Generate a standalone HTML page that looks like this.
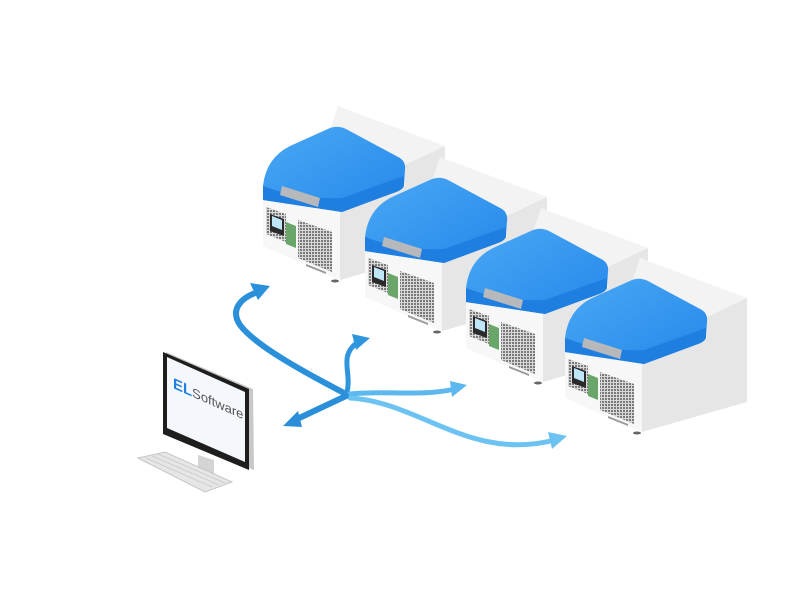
<!DOCTYPE html>
<html><head><meta charset="utf-8"><style>html,body{margin:0;padding:0;background:#fff}svg{display:block}</style></head>
<body>
<svg width="800" height="600" viewBox="0 0 800 600" xmlns="http://www.w3.org/2000/svg">
<defs>
<linearGradient id="lid" x1="0" y1="0" x2="1" y2="1">
<stop offset="0" stop-color="#4aa8f4"/><stop offset="1" stop-color="#2588ea"/></linearGradient>
<pattern id="grid" width="3" height="3" patternUnits="userSpaceOnUse">
<rect width="3" height="3" fill="#d8d8d8"/><rect width="2" height="2" fill="#7a7a7a"/></pattern>
<g id="m">
<!-- back white box -->
<polygon points="338,106 445,146 405,168 330,130" fill="#f3f3f3"/>
<polygon points="445,146 445,250 340,280 340,212 405,186 405,165" fill="#e6e6e6"/>
<!-- base front -->
<polygon points="263,198 340,212 340,280 263,246" fill="#f7f7f7"/>
<polygon points="266,207 286,214 286,242 266,234" fill="url(#grid)"/>
<polygon points="298,220 332,232 332,272 298,258" fill="url(#grid)"/>
<polygon points="270,214 284,219 284,236 270,231" fill="#2a2a2a"/>
<polygon points="272,216 282,220 282,230 272,226" fill="#bfe6f7"/>
<polygon points="286,222 296,226 296,248 286,244" fill="#6aa56a"/>
<polygon points="306,264 326,272 326,274 306,266" fill="#999"/>
<!-- lid -->
<path d="M263,200 L263,186 Q266,158 290,146 L330,128 Q338,125 346,129 L400,158 Q406,162 405,170 L404,186 Q402,190 396,192 L342,212 Z" fill="url(#lid)"/>
<path d="M263,186 Q300,200 342,198 L404,176 L404,186 Q402,190 396,192 L342,212 L263,200 Z" fill="#1f7fe0"/>
<polygon points="282,186 320,198 318,207 280,195" fill="#b6b8bb"/>
<ellipse cx="335" cy="281" rx="4" ry="1.5" fill="#666"/>
</g>
</defs>
<use href="#m"/>
<use href="#m" transform="translate(102,51)"/>
<use href="#m" transform="translate(203,102)"/>
<use href="#m" transform="translate(302,152)"/>

<!-- arrows -->
<g fill="none" stroke-linecap="round">
<path d="M346,394 C300,370 255,345 240,325 C230,310 240,298 258,292" stroke="#2a90da" stroke-width="6"/>
<path d="M347,392 C352,372 338,356 358,342" stroke="#2f96de" stroke-width="5"/>
<path d="M350,394 C385,390 420,397 455,389" stroke="#5cb8ee" stroke-width="5"/>
<path d="M350,398 C420,402 470,462 555,440" stroke="#6cc3f2" stroke-width="5"/>
<path d="M346,396 L295,420" stroke="#2a8fd8" stroke-width="6"/>
</g>
<g>
<polygon points="270,286 250,283 258,300" fill="#2a90da"/>
<polygon points="370,338 352,334 356,350" fill="#2f96de"/>
<polygon points="467,385 450,381 452,397" fill="#5cb8ee"/>
<polygon points="567,436 548,432 552,449" fill="#6cc3f2"/>
<polygon points="283,426 298,411 302,427" fill="#2a8fd8"/>
</g>

<!-- monitor -->
<polygon points="198,455 214,460 214,476 198,471" fill="#d4d4d4"/>
<polygon points="166,352 253,389 254,470 166,434" fill="#c8c8c8"/>
<polygon points="163,352 249,389 249,470 163,434" fill="#1e1e1e"/>
<polygon points="167,357 245,392 245,462 167,428" fill="#f4f8fc"/>
<text x="0" y="0" font-family="Liberation Sans, sans-serif" font-size="13" fill="#555" transform="translate(173,388) skewY(24)"><tspan fill="#1e7fe0" font-weight="bold" font-size="15">EL</tspan>Software</text>
<!-- keyboard -->
<polygon points="138,458 165,452 232,482 205,492" fill="#e6e6e6" stroke="#c6c6c6"/>
<g stroke="#c8c8c8" stroke-width="0.8">
<line x1="146" y1="458" x2="212" y2="487"/><line x1="152" y1="456" x2="219" y2="485"/><line x1="158" y1="454" x2="225" y2="483"/>
</g>
</svg>
</body></html>
